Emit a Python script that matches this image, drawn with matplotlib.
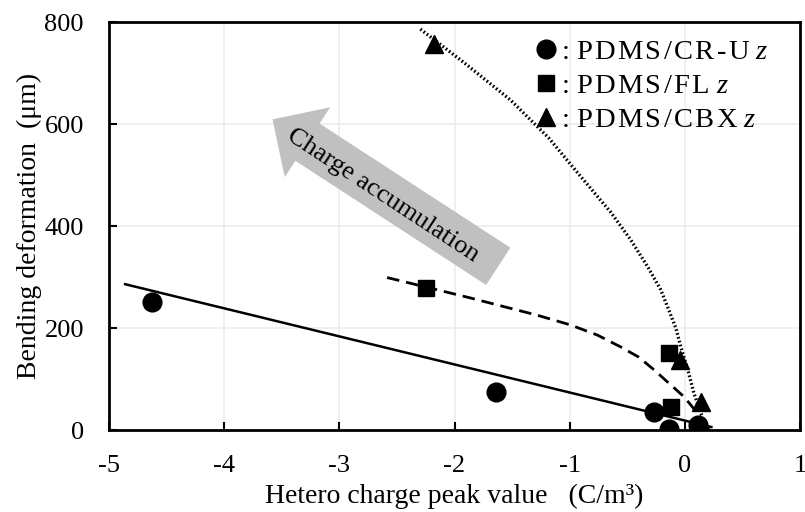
import matplotlib
matplotlib.use('Agg')
import matplotlib.pyplot as plt
from matplotlib.lines import Line2D
from matplotlib.patches import FancyArrowPatch

plt.rcParams['font.family'] = ['Liberation Serif', 'DejaVu Serif']
plt.rcParams['mathtext.fontset'] = 'custom'
plt.rcParams['mathtext.rm'] = 'Liberation Serif'
plt.rcParams['mathtext.it'] = 'Liberation Serif:italic'
plt.rcParams['axes.unicode_minus'] = False

# measured points
cr_x = [-4.63, -1.64, -0.27, -0.14, 0.11]
cr_y = [252, 75, 36, 3, 10]
fl_x = [-2.25, -0.14, -0.12]
fl_y = [278, 152, 46]
cbx_x = [-2.18, -0.04, 0.14, 0.17]
cbx_y = [757, 137, 55, 5]

# trend lines
cr_fit_x = [-4.86, 0.23]
cr_fit_y = [286, 6]
fl_fit_x = [-2.585, -2.15, -1.861, -1.571, -1.278, -0.991, -0.757, -0.557,
            -0.4, -0.267, -0.139, -0.006, 0.096, 0.197]
fl_fit_y = [299, 275, 259, 242, 225, 206, 186, 163, 143, 118, 92, 65, 37, 6]
cbx_fit_x = [-2.296, -1.904, -1.513, -1.183, -0.878, -0.643, -0.47, -0.322,
             -0.209, -0.13, -0.078, -0.035, 0.026, 0.078, 0.13, 0.183]
cbx_fit_y = [786, 718, 647, 573, 490, 427, 373, 320, 275, 230, 200, 163,
             118, 73, 39, 6]

fig = plt.figure(figsize=(8.05, 5.12), dpi=100)
ax = fig.add_axes([0.1354, 0.160, 0.8584, 0.797])

ax.plot(cr_fit_x, cr_fit_y, color='black', lw=1.8, zorder=2)
ax.plot(fl_fit_x, fl_fit_y, color='black', lw=2, dashes=(4.5, 2.5), zorder=2)
ax.plot(cbx_fit_x, cbx_fit_y, color='black', lw=2.4, linestyle=(0, (0.5, 0.7)), zorder=2)

ax.plot(cr_x, cr_y, 'o', color='black', ms=13.5, ls='none', zorder=3)
ax.plot(fl_x, fl_y, 's', color='black', ms=12, ls='none', zorder=3)
ax.plot(cbx_x, cbx_y, '^', color='black', ms=12.5, ls='none', zorder=3)

arrow = FancyArrowPatch((-1.6, 318), (-3.6, 612),
                        arrowstyle='simple,head_length=3.0,head_width=6.0,tail_width=3.2',
                        mutation_scale=10, color='#c0c0c0', lw=0, zorder=1)
ax.add_patch(arrow)
ax.text(-2.62, 460, 'Charge accumulation', rotation=-33.3, rotation_mode='anchor',
        ha='center', va='center', fontsize=19, zorder=4)


def spaced(s):
    return '\u200a'.join(s)


handles = [Line2D([], [], marker='o', color='black', ls='none', ms=13.5),
           Line2D([], [], marker='s', color='black', ls='none', ms=12),
           Line2D([], [], marker='^', color='black', ls='none', ms=12.5)]
labels = [': ' + spaced('PDMS/CR-U') + ' $z$',
          ': ' + spaced('PDMS/FL') + ' $z$',
          ': ' + spaced('PDMS/CBX') + ' $z$']
ax.legend(handles, labels, loc='upper left', bbox_to_anchor=(0.6, 0.986),
          frameon=False, fontsize=20.5, handlelength=0.8, handletextpad=0.1,
          labelspacing=0.28, borderaxespad=0)

ax.set_xlim(-5, 1)
ax.set_ylim(0, 800)
ax.set_xticks([-5, -4, -3, -2, -1, 0, 1])
ax.set_yticks([0, 200, 400, 600, 800])
ax.grid(True, color='#ececec', lw=1.2)
ax.set_axisbelow(True)
ax.tick_params(direction='in', length=6, width=1.5, labelsize=19)
ax.tick_params(axis='x', pad=18)
ax.tick_params(axis='y', pad=18)
for s in ax.spines.values():
    s.set_linewidth(2)

ax.set_xlabel('Hetero charge peak value   (C/m\u00b3)', fontsize=20, labelpad=5)
ax.set_ylabel('Bending deformation  (\u03bcm)', fontsize=20, labelpad=2)

fig.savefig('out.png', dpi=100)
